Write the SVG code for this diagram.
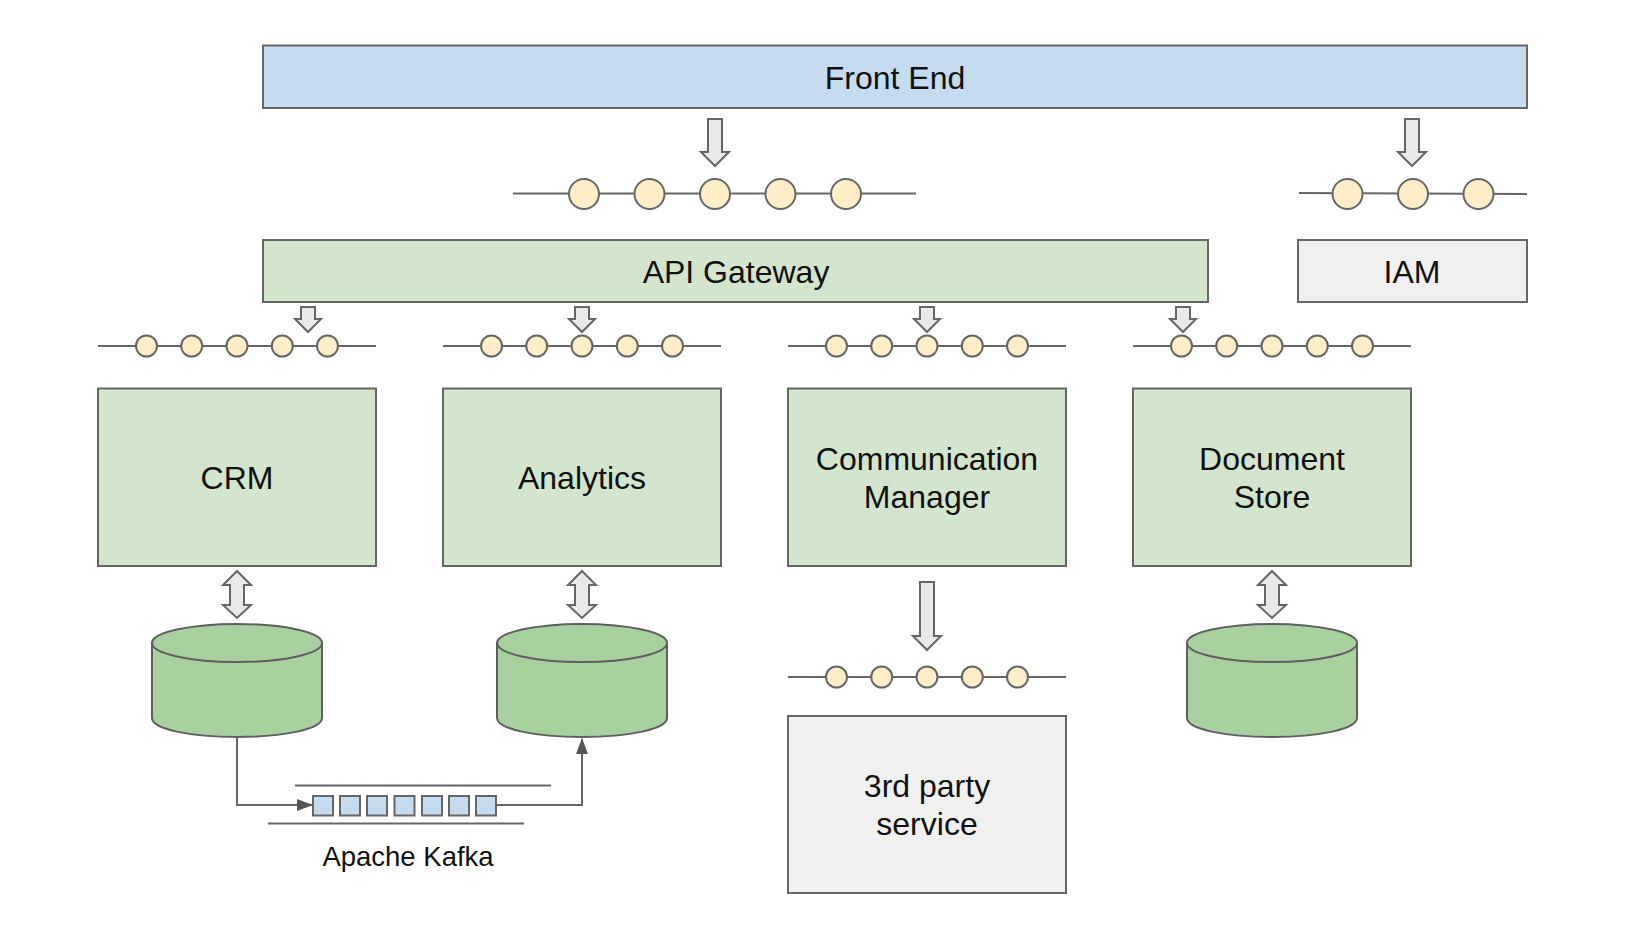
<svg xmlns="http://www.w3.org/2000/svg" width="1642" height="936" viewBox="0 0 1642 936">
<style>
.b{stroke:#666;stroke-width:2}
.blue{fill:#c5dcf0}.green{fill:#d3e6cd}.grey{fill:#f0f0f0}
.t{font-family:"Liberation Sans",Arial,sans-serif;font-size:32px;fill:#111;text-anchor:middle}
.line{stroke:#666;stroke-width:2;fill:none}
.dot{fill:#fdeec7;stroke:#666;stroke-width:2}
.arr{fill:#e9e9e9;stroke:#666;stroke-width:2;stroke-linejoin:miter}
.cyl{fill:#a9d09f;stroke:#5f5f5f;stroke-width:2}
.sq{fill:#c5dcf0;stroke:#666;stroke-width:2}
</style>
<defs>
<marker id="ah" viewBox="0 0 16 12" refX="15" refY="6" markerWidth="16" markerHeight="12" markerUnits="userSpaceOnUse" orient="auto"><path d="M0 0L16 6L0 12Z" fill="#555"/></marker>
<g id="bus"><path class="line" d="M-139 0H139"/><circle class="dot" cx="-90.500" cy="0" r="10.500"/><circle class="dot" cx="-45.300" cy="0" r="10.500"/><circle class="dot" cx="0" cy="0" r="10.500"/><circle class="dot" cx="45.300" cy="0" r="10.500"/><circle class="dot" cx="90.500" cy="0" r="10.500"/></g>
<path id="sa" class="arr" d="M-7 0H7V12H13L0 25L-13 12H-7Z"/>
<path id="da" class="arr" d="M0 0L14 14H7V34H14L0 47L-14 34H-7V14H-14Z"/>
<g id="db"><path class="cyl" d="M-85 20V95C-85 106 -47 114 0 114C47 114 85 106 85 95V20Z"/><ellipse class="cyl" cx="0" cy="20" rx="85" ry="19"/></g>
</defs>
<g id="connectors">
<path class="arr" d="M708 119H722V152H729L715 166L701 152H708Z"/>
<path class="arr" d="M1405 119H1419V152H1426L1412 166L1398 152H1405Z"/>
<path class="line" d="M513 193.500H916"/>
<path class="line" d="M1299 193L1527 194"/>
<use href="#sa" x="308" y="307"/><use href="#sa" x="582" y="307"/><use href="#sa" x="927" y="307"/><use href="#sa" x="1183" y="307"/>
<use href="#da" x="237" y="571"/><use href="#da" x="582" y="571"/><use href="#da" x="1272" y="571"/>
<path class="arr" d="M920 582H934V636H941L927 650L913 636H920Z"/>
<path class="line" d="M237 737V805H312" marker-end="url(#ah)"/>
<path class="line" d="M496 805H582V739" marker-end="url(#ah)"/>
<path class="line" d="M295 785.500H551M268 823.500H524"/>
</g>
<g id="front-end"><rect class="b blue" x="263" y="45.500" width="1264" height="62.500"/><text class="t" x="895" y="89">Front End</text></g>
<g id="bus-main"><circle class="dot" cx="584" cy="194" r="15"/><circle class="dot" cx="649.500" cy="194" r="15"/><circle class="dot" cx="715" cy="194" r="15"/><circle class="dot" cx="780.500" cy="194" r="15"/><circle class="dot" cx="846" cy="194" r="15"/></g>
<g id="bus-iam"><circle class="dot" cx="1347.500" cy="194" r="15"/><circle class="dot" cx="1413" cy="194" r="15"/><circle class="dot" cx="1478.500" cy="194" r="15"/></g>
<g id="api-gateway"><rect class="b green" x="263" y="240" width="945" height="62"/><text class="t" x="736" y="283">API Gateway</text></g>
<g id="iam"><rect class="b grey" x="1298" y="240" width="229" height="62"/><text class="t" x="1412" y="283">IAM</text></g>
<g id="bus-crm"><use href="#bus" x="237" y="346"/></g>
<g id="bus-analytics"><use href="#bus" x="582" y="346"/></g>
<g id="bus-comm"><use href="#bus" x="927" y="346"/></g>
<g id="bus-doc"><use href="#bus" x="1272" y="346"/></g>
<g id="crm"><rect class="b green" x="98" y="388.500" width="278" height="177.500"/><text class="t" x="237" y="489">CRM</text></g>
<g id="analytics"><rect class="b green" x="443" y="388.500" width="278" height="177.500"/><text class="t" x="582" y="489">Analytics</text></g>
<g id="comm"><rect class="b green" x="788" y="388.500" width="278" height="177.500"/><text class="t" x="927" y="470">Communication</text><text class="t" x="927" y="508">Manager</text></g>
<g id="doc"><rect class="b green" x="1133" y="388.500" width="278" height="177.500"/><text class="t" x="1272" y="470">Document</text><text class="t" x="1272" y="508">Store</text></g>
<g id="db-crm"><use href="#db" x="237" y="623"/></g>
<g id="db-analytics"><use href="#db" x="582" y="623"/></g>
<g id="db-doc"><use href="#db" x="1272" y="623"/></g>
<g id="bus-third"><use href="#bus" x="927" y="677"/></g>
<g id="third-party"><rect class="b grey" x="788" y="716" width="278" height="177"/><text class="t" x="927" y="797">3rd party</text><text class="t" x="927" y="835">service</text></g>
<g id="kafka">
<rect class="sq" x="313" y="796" width="20" height="19.500"/><rect class="sq" x="340" y="796" width="20" height="19.500"/><rect class="sq" x="367" y="796" width="20" height="19.500"/><rect class="sq" x="394.500" y="796" width="20" height="19.500"/><rect class="sq" x="422" y="796" width="20" height="19.500"/><rect class="sq" x="449" y="796" width="20" height="19.500"/><rect class="sq" x="476" y="796" width="20" height="19.500"/>
<text class="t" x="408" y="866" style="font-size:27.500px">Apache Kafka</text></g>
</svg>
